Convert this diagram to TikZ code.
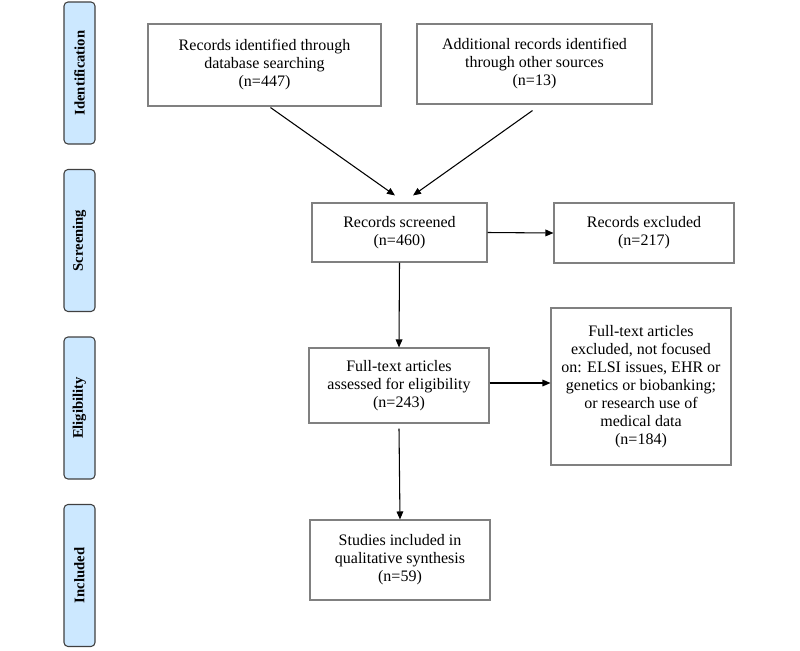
\documentclass[tikz,border=0pt]{standalone}
\usepackage{fontspec}
\setmainfont{Liberation Serif}
\usetikzlibrary{arrows.meta,calc}

\definecolor{phasefill}{RGB}{204,232,255}
\definecolor{boxline}{RGB}{128,128,128}

\tikzset{
  box/.style={draw=boxline, line width=0.8pt, align=center, inner sep=0pt,
    font=\rmfamily\fontsize{12}{13.5}\selectfont},
  phase/.style={draw=black!75, fill=phasefill, line width=0.8pt, rounded corners=3pt,
    rotate=90, inner sep=0pt, minimum width=106.5pt, minimum height=23.25pt,
    font=\rmfamily\bfseries\fontsize{11}{13}\selectfont},
  flow/.style={-{Triangle[length=6pt,width=5pt]}, line width=0.8pt}
}

\begin{document}
\begin{tikzpicture}[x=0.75pt, y=-0.75pt]
        \useasboundingbox (0,0) rectangle (800,650);
        % phases on the left
        \node[phase] (ident) at (79.5, 73)  {Identification};
        \node[phase] (screen) at (79.5, 240.5) {Screening};
        \node[phase] (elig) at (79.5, 408) {Eligibility};
        \node[phase] (incl) at (79.5, 575.5) {Included};
        % boxes
        \node[box, minimum width=174.75pt, minimum height=61.5pt] (db) at (264.5, 65)
          {Records identified through\\database searching\\(n=447)};
        \node[box, minimum width=176.25pt, minimum height=60pt] (other) at (534.5, 64)
          {Additional records identified\\through other sources\\(n=13)};
        \node[box, minimum width=131.25pt, minimum height=44.25pt] (scr) at (399.5, 232.5)
          {Records screened\\(n=460)};
        \node[box, minimum width=135pt, minimum height=45pt] (excl) at (644, 233)
          {Records excluded\\(n=217)};
        \node[box, minimum width=135pt, minimum height=56.25pt] (full) at (399, 385.5)
          {Full-text articles\\assessed for eligibility\\(n=243)};
        \node[box, minimum width=135pt, minimum height=117.75pt] (fullexcl) at (641, 386.5)
          {Full-text articles\\excluded, not focused\\on: ELSI issues, EHR or\\genetics or biobanking;\\or research use of\\medical data\\(n=184)};
        \node[box, minimum width=135pt, minimum height=60pt] (studies) at (400, 560)
          {Studies included in\\qualitative synthesis\\(n=59)};
        % connectors
        \draw[flow] ($(db.south)+(6,1)$) -- ($(scr.north)+(-4.5,-7)$);
        \draw[flow] ($(other.south)+(-2,6)$) -- ($(scr.north)+(13.5,-7)$);
        \draw[flow] (scr.east) -- (excl.west);
        \draw[flow] (scr.south) -- (full.north);
        \draw[flow] ($(full.east)+(0,-2.5)$) -- (fullexcl.west |- {$(full.east)+(0,-2.5)$});
        \draw[flow] ($(full.south)+(0,5)$) -- (studies.north);
      \end{tikzpicture}
\end{document}
